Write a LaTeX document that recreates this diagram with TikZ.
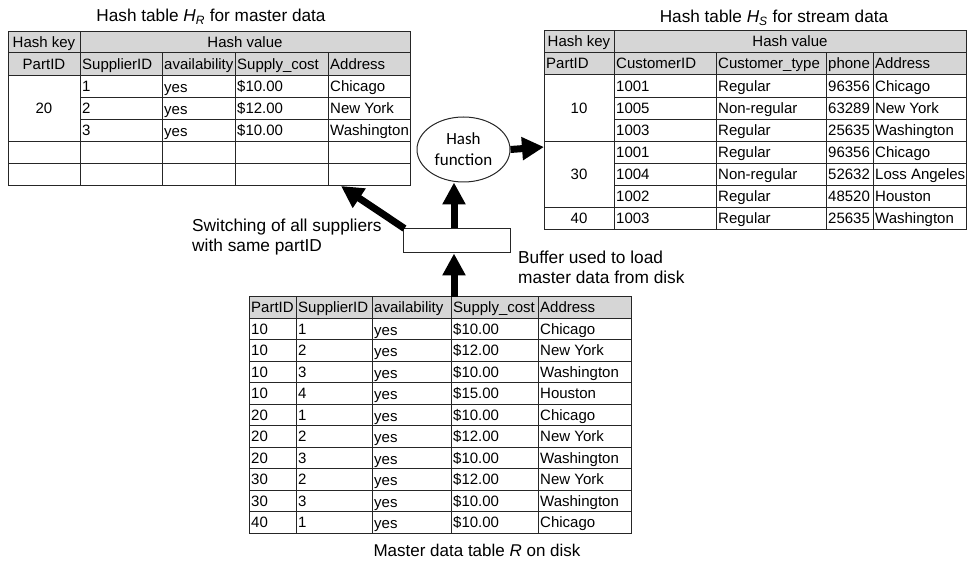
\documentclass[tikz,border=0pt]{standalone}
\usepackage{fontspec}
\setmainfont{Liberation Sans}
\newfontfamily\calfont{Carlito}
\usetikzlibrary{arrows.meta,shapes.geometric}
\tikzset{
  txt/.style={inner sep=0pt, font=\fontsize{15}{19.5}\selectfont},
  ttl/.style={inner sep=0pt, font=\fontsize{17.2}{19.5}\selectfont},
  lbl/.style={inner sep=0pt, font=\fontsize{17.3}{20}\selectfont, anchor=west, align=left},
  cell/.style={txt, anchor=base west},
  ccell/.style={txt, anchor=base},
  grid/.style={draw=black!85, line width=1pt},
  hdr/.style={fill=black!16},
  bigarrow/.style={line width=7pt, -{Triangle[length=22pt,width=22pt]}}
}
\begin{document}
\begin{tikzpicture}[x=1pt,y=-1pt]
\useasboundingbox (0,0) rectangle (967,561);

% ---------- Hash table H_R ----------
\node[ttl] (tR) at (211,17) {Hash table \textit{H}\textsubscript{\textit{R}} for master data};
\fill[hdr] (8,32) rectangle (410,76);
\draw[grid] (8,32) rectangle (410,186);
\draw[grid] (8,53) -- (410,53) (8,76) -- (410,76) (80,98) -- (410,98) (80,120) -- (410,120)
  (8,142) -- (410,142) (8,164) -- (410,164);
\draw[grid] (80,32) -- (80,186);
\foreach \x in {162,235,328} \draw[grid] (\x,53) -- (\x,186);
\coordinate (hrC) at (341,186);
\node[ccell] (hr-hk) at (44,48) {Hash key};
\node[ccell] (hr-hv) at (245,48) {Hash value};
\node[ccell] (hr-pid) at (44,70) {PartID};
\node[cell] (hr-h1) at (82,70) {SupplierID};
\node[cell] (hr-h2) at (164,70) {availability};
\node[cell] (hr-h3) at (237,70) {Supply\_cost};
\node[cell] (hr-h4) at (330,70) {Address};
\node[ccell] (hr-k) at (44,114) {20};
\foreach \y/\a/\b/\c/\d in {92/1/yes/\$10.00/Chicago,114/2/yes/\$12.00/New York,136/3/yes/\$10.00/Washington}{
  \node[cell] (hr-\a-a) at (82,\y) {\a};
  \node[cell] (hr-\a-b) at (164,\y+1) {\b};
  \node[cell] (hr-\a-c) at (237,\y) {\c};
  \node[cell] (hr-\a-d) at (330,\y) {\d};
}

% ---------- Hash table H_S ----------
\node[ttl] (tS) at (774,18) {Hash table \textit{H}\textsubscript{\textit{S}} for stream data};
\fill[hdr] (544,31) rectangle (966,75);
\draw[grid] (544,31) rectangle (966,230);
\draw[grid] (544,53) -- (966,53) (544,75) -- (966,75) (614,98) -- (966,98) (614,120) -- (966,120)
  (544,142) -- (966,142) (614,164) -- (966,164) (614,186) -- (966,186) (544,208) -- (966,208);
\draw[grid] (614,31) -- (614,230);
\foreach \x in {716,826,873} \draw[grid] (\x,53) -- (\x,230);
\coordinate (hsL) at (544,147);
\node[ccell] (hs-hk) at (579,47) {Hash key};
\node[ccell] (hs-hv) at (790,47) {Hash value};
\node[cell] (hs-pid) at (546,69) {PartID};
\node[cell] (hs-h1) at (616,69) {CustomerID};
\node[cell] (hs-h2) at (718,69) {Customer\_type};
\node[cell] (hs-h3) at (828,69) {phone};
\node[cell] (hs-h4) at (875,69) {Address};
\node[ccell] (hs-k1) at (579,114) {10};
\node[ccell] (hs-k2) at (579,180) {30};
\node[ccell] (hs-k3) at (579,224) {40};
\foreach \n/\y/\a/\b/\c/\d in {1/92/1001/Regular/96356/Chicago,2/114/1005/Non-regular/63289/New York,
  3/136/1003/Regular/25635/Washington,4/158/1001/Regular/96356/Chicago,5/180/1004/Non-regular/52632/Loss Angeles,
  6/202/1002/Regular/48520/Houston,7/224/1003/Regular/25635/Washington}{
  \node[cell] (hs-\n-a) at (616,\y) {\a};
  \node[cell] (hs-\n-b) at (718,\y) {\b};
  \node[cell] (hs-\n-c) at (828,\y) {\c};
  \node[cell] (hs-\n-d) at (875,\y) {\d};
}

% ---------- Master data table R ----------
\fill[hdr] (249,297) rectangle (631,318.45);
\draw[grid] (249,297) rectangle (631,533);
\foreach \i in {1,...,10} \draw[grid] (249,297+21.45*\i) -- (631,297+21.45*\i);
\foreach \x in {296,372,451,538} \draw[grid] (\x,297) -- (\x,533);
\coordinate (mT) at (454,297);
\node[cell] (r-h0) at (251,313) {PartID};
\node[cell] (r-h1) at (298,313) {SupplierID};
\node[cell] (r-h2) at (374,313) {availability};
\node[cell] (r-h3) at (453,313) {Supply\_cost};
\node[cell] (r-h4) at (540,313) {Address};
\foreach \i/\p/\s/\c/\d in {1/10/1/\$10.00/Chicago,2/10/2/\$12.00/New York,3/10/3/\$10.00/Washington,
  4/10/4/\$15.00/Houston,5/20/1/\$10.00/Chicago,6/20/2/\$12.00/New York,7/20/3/\$10.00/Washington,
  8/30/2/\$12.00/New York,9/30/3/\$10.00/Washington,10/40/1/\$10.00/Chicago}{
  \node[cell] (r-\i-a) at (251,313+21.45*\i) {\p};
  \node[cell] (r-\i-b) at (298,313+21.45*\i) {\s};
  \node[cell] (r-\i-c) at (374,314+21.45*\i) {yes};
  \node[cell] (r-\i-d) at (453,313+21.45*\i) {\c};
  \node[cell] (r-\i-e) at (540,313+21.45*\i) {\d};
}
\node[inner sep=0pt, font=\fontsize{17}{20}\selectfont] (tM) at (477,550) {Master data table \textit{R} on disk};

% ---------- hash function, buffer, arrows ----------
\node[draw=black!85, line width=1pt, ellipse, minimum width=93pt, minimum height=65pt, inner sep=0pt,
  align=center, font=\calfont\fontsize{17}{21}\selectfont] (hf) at (463.5,149.5) {Hash\\function};
\node[draw=black!85, line width=1pt, minimum width=107pt, minimum height=24pt, inner sep=0pt] (buf) at (456.5,241) {};
\node[lbl] (sw) at (192,237.5) {Switching of all suppliers\\with same partID};
\node[lbl] (bl) at (518,267) {Buffer used to load\\master data from disk};

\draw[bigarrow] (hf.east) -- (hsL);
\draw[bigarrow] ([xshift=-2.5pt]buf.north) -- ([xshift=-2.5pt]buf.north |- hf.south);
\draw[bigarrow] ([xshift=2pt]buf.north west) -- (hrC);
\draw[bigarrow] (mT) -- (mT |- buf.south);
\end{tikzpicture}
\end{document}
